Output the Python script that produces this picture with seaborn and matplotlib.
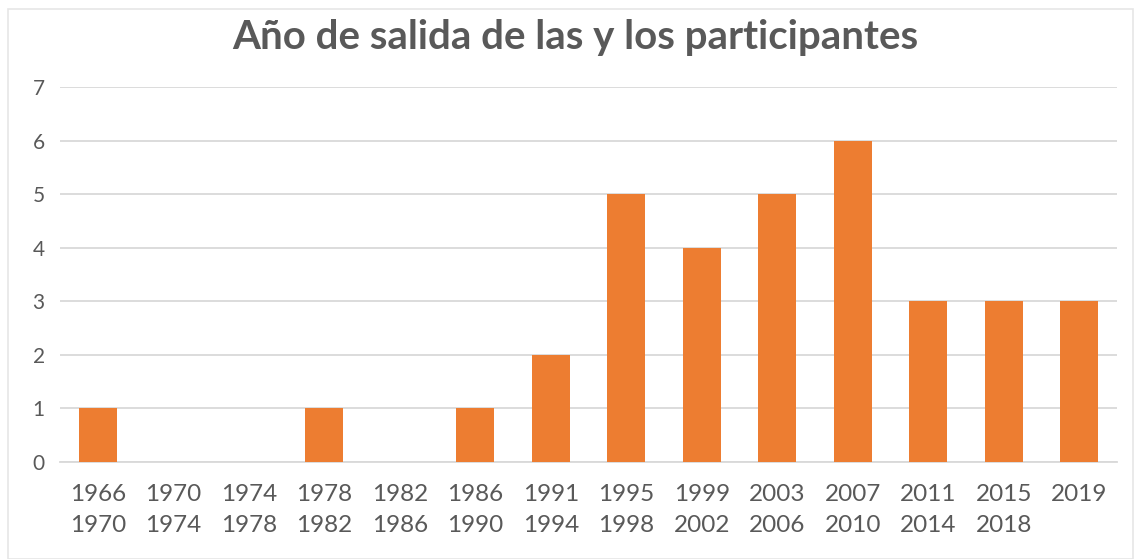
import matplotlib
matplotlib.use("Agg")
import matplotlib.pyplot as plt
import matplotlib.patches as mpatches
import pandas as pd
import seaborn as sns

# ---------------------------
# Data
# ---------------------------
periods = ["1966\n1970", "1970\n1974", "1974\n1978", "1978\n1982", "1982\n1986",
           "1986\n1990", "1991\n1994", "1995\n1998", "1999\n2002", "2003\n2006",
           "2007\n2010", "2011\n2014", "2015\n2018", "2019"]
counts = [1, 0, 0, 1, 0, 1, 2, 5, 4, 5, 6, 3, 3, 3]
y_ticks = [0, 1, 2, 3, 4, 5, 6, 7]

df = pd.DataFrame({"periodo": periods, "n": counts})

# ---------------------------
# Style
# ---------------------------
sns.set_style("white")
plt.rcParams['font.family'] = ['Lato', 'DejaVu Sans']
text_gray = "#595959"
grid_gray = "#D9D9D9"
bar_orange = "#ED7D31"

fig = plt.figure(figsize=(11.35, 5.59), dpi=100)
# light chart-area border
fig.patches.append(mpatches.Rectangle((8 / 1135, 0), 1 - 8 / 1135 - 0.002, 1 - 9 / 559,
                                      transform=fig.transFigure, fill=False,
                                      edgecolor="#E6E6E6", linewidth=1.2))
ax = fig.add_axes([60 / 1135, 1 - 462 / 559, 1057 / 1135, 375 / 559])

sns.barplot(data=df, x="periodo", y="n", color=bar_orange, saturation=1,
            width=0.5, ax=ax, zorder=3, edgecolor="none")

ax.set_ylim(0, 7)
ax.set_yticks(y_ticks)
ax.yaxis.grid(True, color=grid_gray, linewidth=1.3, zorder=0)
ax.set_axisbelow(True)
for s in ax.spines.values():
    s.set_visible(False)
ax.spines['bottom'].set_visible(True)
ax.spines['bottom'].set_color(grid_gray)
ax.spines['bottom'].set_linewidth(1.3)

ax.set_xlabel("")
ax.set_ylabel("")
ax.tick_params(axis="x", length=0, pad=16, labelsize=17.5, labelcolor=text_gray)
ax.tick_params(axis="y", length=0, pad=11, labelsize=15, labelcolor=text_gray)
for lbl in ax.get_xticklabels():
    lbl.set_verticalalignment("top")
    lbl.set_linespacing(1.55)

fig.text(575 / 1135, 1 - 37 / 559, "Año de salida de las y los participantes",
         ha="center", va="center", fontsize=29, fontweight="bold", color=text_gray)

fig.savefig("out.png", dpi=100)
